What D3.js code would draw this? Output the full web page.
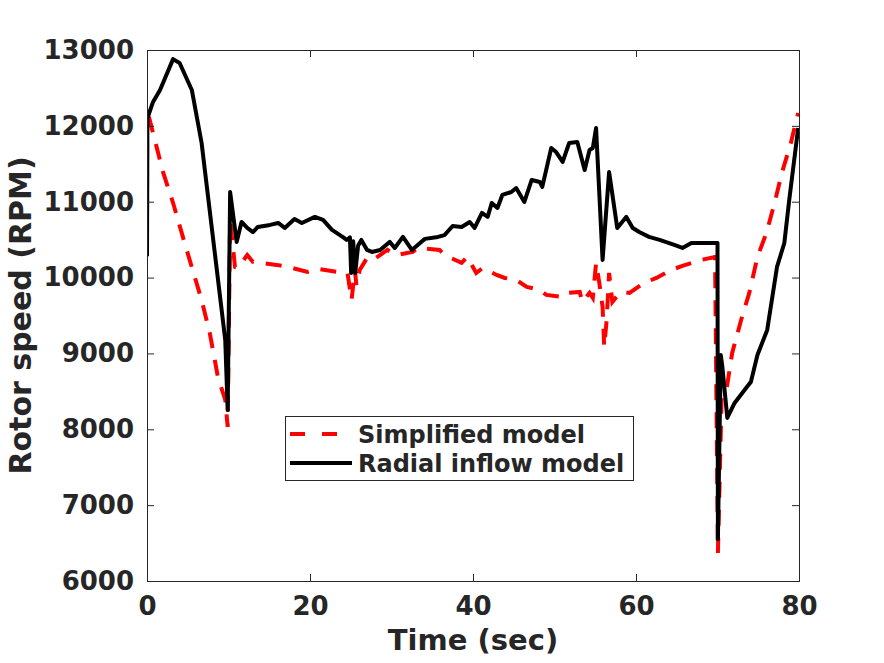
<!DOCTYPE html>
<html>
<head>
<meta charset="utf-8">
<script src="https://cdn.jsdelivr.net/npm/d3@7"></script>
<style>
  body { margin: 0; background: #fff; }
  #chart { width: 884px; height: 663px; }
  text { font-family: "DejaVu Sans", sans-serif; font-weight: bold; fill: #262626; }
</style>
</head>
<body>
<div id="chart"></div>
<script>
// time (sec) / rotor speed (RPM)
var simplifiedTime = [0, 0.02, 0.74, 2.0, 3.2, 4.4, 5.6, 6.7, 7.7, 8.7, 9.6, 9.9, 10.2, 10.8, 11.2, 12.3, 13.0, 15.9, 17.3, 19.7,
    21.0, 23.3, 24.6, 25.1, 25.5, 25.7, 26.1, 27.0, 27.7, 29.5, 30.6, 32.6, 33.2, 35.9, 36.5, 38.6, 39.3, 40.4, 41.2, 42.9,
    43.9, 45.3, 46.6, 48.2, 49.0, 51.0, 51.5, 53.1, 53.4, 54.3, 54.7, 55.1, 55.5, 55.9, 56.1, 56.4, 56.7, 57.1, 57.6, 58.2,
    59.2, 61.0, 62.5, 64.3, 65.7, 68.0, 69.7, 70.05, 70.5, 71.1, 71.8, 72.9, 73.9, 74.9, 76.0, 77.0, 77.9, 79.0, 79.9];
var simplifiedRpm = [10456, 12209, 11906, 11379, 10983, 10536, 10100, 9705, 9270, 8690, 8387, 8031, 10760, 10140, 10127, 10298, 10206, 10167, 10140, 10074,
    10114, 10074, 10061, 9705, 10100, 9900, 10100, 10258, 10232, 10364, 10298, 10338, 10390, 10364, 10298, 10193, 10272, 10061, 10127, 10035,
    9995, 9969, 9877, 9837, 9771, 9745, 9798, 9811, 9679, 9798, 9732, 10193, 9930, 9613, 9086, 9441, 10061, 9679, 9745, 9811,
    9798, 9930, 9995, 10100, 10153, 10232, 10272, 6370, 8400, 8519, 9007, 9441, 9798, 10272, 10588, 10983, 11379, 11774, 12170];

var radialTime = [0, 0.05, 0.74, 1.6, 3.2, 4.0, 5.5, 6.7, 9.6, 9.9, 10.2, 11.0, 11.6, 12.3, 13.0, 13.6, 15.1, 16.1, 16.9, 18.1,
    19.0, 20.6, 21.6, 22.7, 24.0, 24.5, 24.9, 25.05, 25.3, 25.55, 25.9, 26.3, 27.0, 27.6, 28.6, 29.8, 30.4, 31.4, 32.5, 33.5,
    34.1, 35.7, 36.5, 37.5, 38.6, 39.6, 40.2, 41.1, 41.8, 42.3, 43.0, 43.6, 44.7, 45.3, 46.3, 47.2, 48.2, 48.5, 49.6, 50.2,
    51.0, 51.8, 52.8, 53.7, 54.3, 54.7, 55.1, 55.9, 56.7, 57.7, 58.8, 59.6, 60.4, 61.6, 62.9, 64.7, 65.7, 66.8, 70.0, 70.05,
    70.4, 70.6, 71.2, 72.1, 73.6, 74.1, 74.9, 76.1, 77.3, 78.2, 78.8, 79.9];
var radialRpm = [10280, 12100, 12315, 12473, 12880, 12829, 12473, 11774, 9178, 8255, 11128, 10470, 10733, 10654, 10600, 10667, 10694, 10720, 10654, 10773,
    10720, 10800, 10760, 10628, 10536, 10496, 10530, 10060, 10480, 10060, 10420, 10496, 10364, 10338, 10364, 10470, 10390, 10536, 10364, 10456,
    10510, 10536, 10560, 10680, 10667, 10733, 10654, 10852, 10800, 10983, 10918, 11089, 11128, 11180, 10997, 11287, 11260, 11195, 11708, 11655,
    11524, 11774, 11787, 11418, 11682, 11708, 11972, 10232, 11392, 10654, 10800, 10654, 10600, 10536, 10496, 10430, 10390, 10456, 10456, 6550,
    8980, 8820, 8150, 8347, 8558, 8625, 8980, 9310, 10140, 10456, 11023, 11972];

var xTicks = [0, 20, 40, 60, 80];
var yTicks = [6000, 7000, 8000, 9000, 10000, 11000, 12000, 13000];
var seriesNames = ["Simplified model", "Radial inflow model"];

var width = 884, height = 663;
var margin = {top: 50, right: 85, bottom: 82, left: 147};
var plotWidth = width - margin.left - margin.right;
var plotHeight = height - margin.top - margin.bottom;
var axisColor = "#262626";

var svg = d3.select("#chart").append("svg")
    .attr("width", width).attr("height", height);
svg.append("rect").attr("width", width).attr("height", height).attr("fill", "#fff");

var xs = d3.scaleLinear().domain([0, 80]).range([0, plotWidth]);
var ys = d3.scaleLinear().domain([6000, 13000]).range([plotHeight, 0]);

var plotArea = svg.append("g")
    .attr("transform", "translate(" + margin.left + "," + margin.top + ")");

plotArea.append("clipPath").attr("id", "clip")
  .append("rect").attr("width", plotWidth).attr("height", plotHeight);

function toPoints(ts, vs) {
    return ts.map(function(t, i) { return [t, vs[i]]; });
}

var line = d3.line()
    .x(function(d) { return xs(d[0]); })
    .y(function(d) { return ys(d[1]); });

var lines = plotArea.append("g").attr("clip-path", "url(#clip)");
lines.append("path")
    .datum(toPoints(simplifiedTime, simplifiedRpm))
    .attr("d", line)
    .attr("fill", "none")
    .attr("stroke", "#ff0000")
    .attr("stroke-width", 4)
    .attr("stroke-dasharray", "16,12");
lines.append("path")
    .datum(toPoints(radialTime, radialRpm))
    .attr("d", line)
    .attr("fill", "none")
    .attr("stroke", "#000")
    .attr("stroke-width", 4)
    .attr("stroke-linejoin", "round");

// axes (box with inward ticks on all four sides)
var tickLen = 7;
var xAxis = plotArea.append("g")
    .attr("transform", "translate(0," + plotHeight + ")")
    .call(d3.axisBottom(xs).tickValues(xTicks).tickSizeInner(-tickLen).tickSizeOuter(0).tickPadding(16));
var xTop = plotArea.append("g")
    .call(d3.axisTop(xs).tickValues(xTicks).tickSizeInner(-tickLen).tickSizeOuter(0).tickFormat(""));
var yAxis = plotArea.append("g")
    .call(d3.axisLeft(ys).tickValues(yTicks).tickFormat(d3.format("d"))
        .tickSizeInner(-tickLen).tickSizeOuter(0).tickPadding(13));
var yRight = plotArea.append("g")
    .attr("transform", "translate(" + plotWidth + ",0)")
    .call(d3.axisRight(ys).tickValues(yTicks).tickSizeInner(-tickLen).tickSizeOuter(0).tickFormat(""));

[xAxis, xTop, yAxis, yRight].forEach(function(a) {
    a.selectAll(".domain").remove();
    a.selectAll("line").attr("stroke", axisColor);
    a.selectAll("text").attr("font-size", 26).attr("fill", axisColor)
        .style("font-family", '"DejaVu Sans", sans-serif').style("font-weight", "bold");
});

plotArea.append("rect")
    .attr("x", 0).attr("y", 0)
    .attr("width", plotWidth).attr("height", plotHeight)
    .attr("fill", "none").attr("stroke", axisColor).attr("stroke-width", 1)
    .attr("shape-rendering", "crispEdges");

// axis labels
svg.append("text")
    .attr("x", margin.left + plotWidth / 2).attr("y", 650)
    .attr("text-anchor", "middle").attr("font-size", 29)
    .text("Time (sec)");
svg.append("text")
    .attr("transform", "translate(31," + (margin.top + plotHeight / 2) + ") rotate(-90)")
    .attr("text-anchor", "middle").attr("font-size", 30)
    .text("Rotor speed (RPM)");

// legend
var legend = svg.append("g").attr("transform", "translate(285,416)");
legend.append("rect")
    .attr("width", 348).attr("height", 64)
    .attr("fill", "#fff").attr("stroke", axisColor).attr("stroke-width", 1)
    .attr("shape-rendering", "crispEdges");
var legendStyles = [
    {stroke: "#ff0000", dash: "15,17"},
    {stroke: "#000", dash: null}
];
seriesNames.forEach(function(name, i) {
    var yy = 18 + i * 29;
    legend.append("line")
        .attr("x1", 5).attr("x2", 67).attr("y1", yy).attr("y2", yy)
        .attr("stroke", legendStyles[i].stroke).attr("stroke-width", 4)
        .attr("stroke-dasharray", legendStyles[i].dash);
    legend.append("text")
        .attr("x", 73).attr("y", yy + 9)
        .attr("font-size", 24)
        .text(name);
});
</script>
</body>
</html>
